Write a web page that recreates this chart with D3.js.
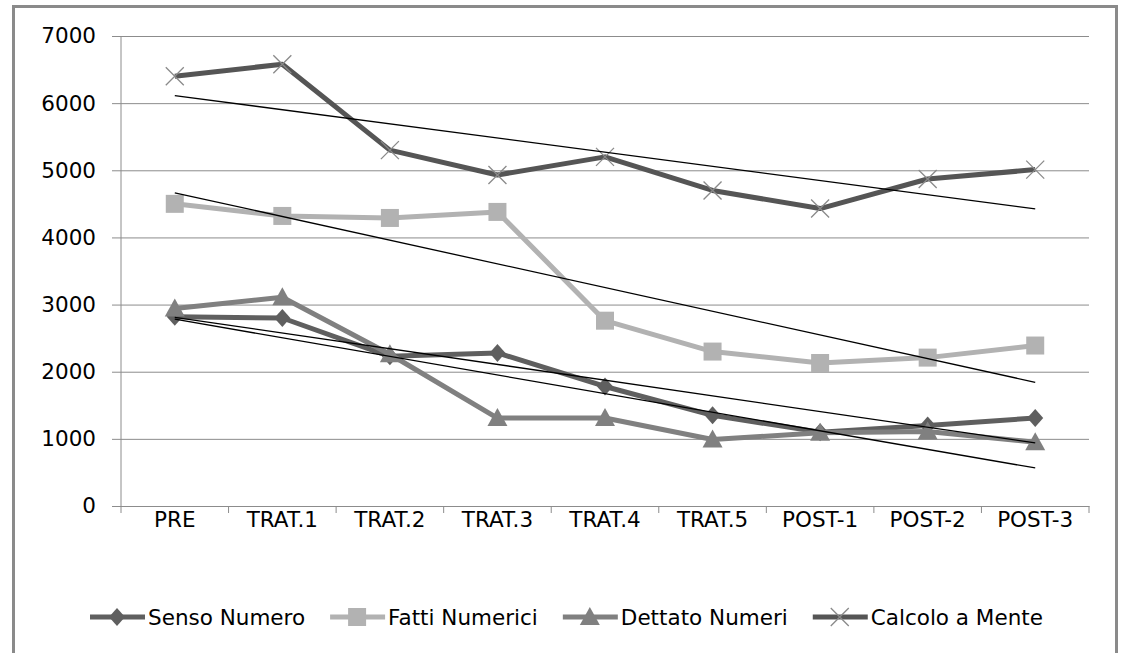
<!DOCTYPE html>
<html>
<head>
<meta charset="utf-8">
<script src="https://cdn.jsdelivr.net/npm/d3@7"></script>
<style>
  body { margin: 0; background: #fff; }
  text { font-family: "DejaVu Sans", sans-serif; fill: #000; }
</style>
</head>
<body>
<div id="chart"></div>
<script>
// categories and values
var categories = ['PRE', 'TRAT.1', 'TRAT.2', 'TRAT.3', 'TRAT.4', 'TRAT.5', 'POST-1', 'POST-2', 'POST-3'];
var sensoNumero    = [2820, 2800, 2230, 2280, 1780, 1350, 1100, 1200, 1310];
var fattiNumerici  = [4500, 4320, 4290, 4380, 2760, 2300, 2130, 2210, 2390];
var dettatoNumeri  = [2940, 3110, 2260, 1310, 1310, 990, 1090, 1110, 950];
var calcoloMente   = [6400, 6580, 5300, 4930, 5200, 4700, 4430, 4870, 5010];
var yTicks = [0, 1000, 2000, 3000, 4000, 5000, 6000, 7000];

var series = [
    { name: 'Senso Numero', values: sensoNumero, color: '#5f5f5f', marker: 'diamond' },
    { name: 'Fatti Numerici', values: fattiNumerici, color: '#b2b2b2', marker: 'square' },
    { name: 'Dettato Numeri', values: dettatoNumeri, color: '#808080', marker: 'triangle' },
    { name: 'Calcolo a Mente', values: calcoloMente, color: '#555555', marker: 'cross' }
];

var svgWidth = 1121, svgHeight = 653;
var margin = { top: 36, right: 32, bottom: 147, left: 121 };
var width = svgWidth - margin.left - margin.right;
var height = svgHeight - margin.top - margin.bottom;
var fontSize = 21.5;

var svg = d3.select('#chart').append('svg')
    .attr('width', svgWidth)
    .attr('height', svgHeight);

// chart frame (open at the bottom, cut by the picture)
svg.append('path')
    .attr('d', 'M13.5,' + (svgHeight + 5) + 'V6.5H1116.5V' + (svgHeight + 5))
    .attr('fill', 'none')
    .attr('stroke', '#8a8a8a')
    .attr('stroke-width', 3);

var g = svg.append('g')
    .attr('transform', 'translate(' + margin.left + ',' + margin.top + ')');

var x = d3.scaleBand().domain(categories).range([0, width]);
var y = d3.scaleLinear().domain([0, 7000]).range([height, 0]);
var cx = function (i) { return x(categories[i]) + x.bandwidth() / 2; };

// gridlines + y labels
var yAxis = g.append('g')
    .call(d3.axisLeft(y).tickValues(yTicks).tickSize(-width).tickSizeOuter(0).tickPadding(25).tickFormat(d3.format('d')));
yAxis.select('.domain').remove();
yAxis.selectAll('.tick line').attr('stroke', '#8c8c8c').attr('x1', -9);
yAxis.selectAll('.tick text').attr('font-size', fontSize);

g.append('line')
    .attr('x1', 0).attr('x2', 0).attr('y1', 0).attr('y2', height)
    .attr('stroke', '#8c8c8c');

// x axis with ticks between categories
var xAxis = g.append('g')
    .attr('transform', 'translate(0,' + height + ')')
    .call(d3.axisBottom(x).tickSize(0).tickPadding(6));
xAxis.select('.domain').attr('stroke', '#8c8c8c');
xAxis.selectAll('.tick text').attr('font-size', fontSize);
xAxis.selectAll('.between')
    .data(d3.range(categories.length + 1))
    .enter().append('line')
    .attr('class', 'between')
    .attr('x1', function (i) { return i * x.step(); })
    .attr('x2', function (i) { return i * x.step(); })
    .attr('y1', 0).attr('y2', 7)
    .attr('stroke', '#8c8c8c');

function markerPath(type) {
    if (type === 'diamond') return 'M0,-9L8,0L0,9L-8,0Z';
    if (type === 'square') return 'M-9,-9H9V9H-9Z';
    if (type === 'triangle') return 'M0,-10L10,8H-10Z';
    return 'M-9,-9L9,9M-9,9L9,-9';
}

function drawMarker(sel, s) {
    sel.append('path')
        .attr('d', markerPath(s.marker))
        .attr('fill', s.marker === 'cross' ? 'none' : s.color)
        .attr('stroke', s.marker === 'cross' ? '#8a8a8a' : 'none')
        .attr('stroke-width', 1.3);
}

var line = d3.line()
    .x(function (d, i) { return cx(i); })
    .y(function (d) { return y(d); });

series.forEach(function (s) {
    g.append('path')
        .datum(s.values)
        .attr('fill', 'none')
        .attr('stroke', s.color)
        .attr('stroke-width', 5)
        .attr('stroke-linejoin', 'round')
        .attr('d', line);
    s.values.forEach(function (v, i) {
        var m = g.append('g').attr('transform', 'translate(' + cx(i) + ',' + y(v) + ')');
        drawMarker(m, s);
    });
});

// linear trend lines
series.forEach(function (s) {
    var n = s.values.length;
    var mx = (n - 1) / 2;
    var my = d3.mean(s.values);
    var sxy = d3.sum(s.values, function (v, i) { return (i - mx) * (v - my); });
    var sxx = d3.sum(s.values, function (v, i) { return (i - mx) * (i - mx); });
    var slope = sxy / sxx;
    var a = my - slope * mx;
    g.append('line')
        .attr('x1', cx(0)).attr('y1', y(a))
        .attr('x2', cx(n - 1)).attr('y2', y(a + slope * (n - 1)))
        .attr('stroke', '#000')
        .attr('stroke-width', 1.3);
});

// legend
var legend = svg.append('g').attr('transform', 'translate(90,617)');
var lx = 0;
series.forEach(function (s) {
    var item = legend.append('g').attr('transform', 'translate(' + lx + ',0)');
    item.append('line')
        .attr('x1', 0).attr('x2', 55).attr('y1', 0).attr('y2', 0)
        .attr('stroke', s.color).attr('stroke-width', 5);
    var m = item.append('g').attr('transform', 'translate(27,0)');
    drawMarker(m, s);
    var t = item.append('text')
        .attr('x', 58).attr('y', 0).attr('dy', '0.35em')
        .attr('font-size', fontSize)
        .text(s.name);
    lx += 58 + t.node().getComputedTextLength() + 25;
});
</script>
</body>
</html>
